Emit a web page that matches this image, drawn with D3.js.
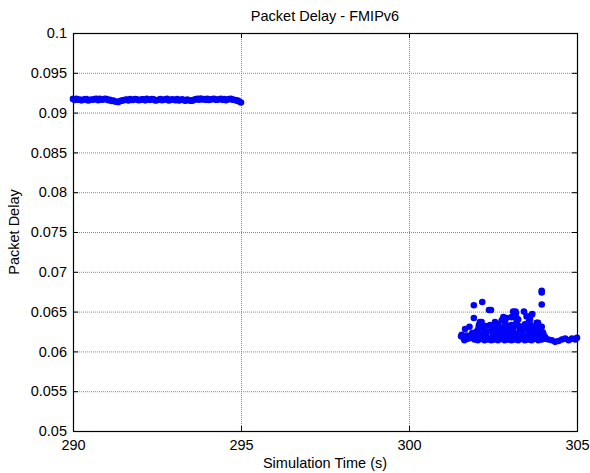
<!DOCTYPE html>
<meta charset="utf-8">
<script src="https://d3js.org/d3.v7.min.js"></script>
<style>
  body { margin: 0; background: #fff; }
  text { font-family: "Liberation Sans", Arial, sans-serif; fill: #000; }
</style>
<body>
<div id="chart"></div>
<script>
  // ---- data ----
  const xTicks = [290, 295, 300, 305];
  const yTicks = [0.05, 0.055, 0.06, 0.065, 0.07, 0.075, 0.08, 0.085, 0.09, 0.095, 0.1];
  const yTickLabels = ["0.05", "0.055", "0.06", "0.065", "0.07", "0.075", "0.08", "0.085", "0.09", "0.095", "0.1"];

  // before handover: steady delay
  const timeA = [290.0, 290.1, 290.2, 290.3, 290.4, 290.5, 290.6, 290.7, 290.8, 290.9,
                 291.0, 291.1, 291.2, 291.3, 291.4, 291.5, 291.6, 291.7, 291.8, 291.9,
                 292.0, 292.1, 292.2, 292.3, 292.4, 292.5, 292.6, 292.7, 292.8, 292.9,
                 293.0, 293.1, 293.2, 293.3, 293.4, 293.5, 293.6, 293.7, 293.8, 293.9,
                 294.0, 294.1, 294.2, 294.3, 294.4, 294.5, 294.6, 294.7, 294.8, 294.9, 295.0];
  const delayA = [0.09172, 0.09174, 0.09165, 0.09160, 0.09170, 0.09158, 0.09162, 0.09172, 0.09174, 0.09165,
                  0.09170, 0.09160, 0.09150, 0.09136, 0.09145, 0.09155, 0.09164, 0.09170, 0.09160, 0.09168,
                  0.09158, 0.09167, 0.09172, 0.09160, 0.09168, 0.09155, 0.09170, 0.09162, 0.09172, 0.09158,
                  0.09162, 0.09170, 0.09158, 0.09155, 0.09164, 0.09150, 0.09160, 0.09174, 0.09176, 0.09170,
                  0.09174, 0.09165, 0.09172, 0.09162, 0.09174, 0.09170, 0.09165, 0.09172, 0.09160, 0.09150, 0.09126];
  const timeA2 = [290.05, 290.15, 290.25, 290.35, 290.45, 290.55, 290.65, 290.75, 290.85, 290.95,
                  291.05, 291.15, 291.25, 291.35, 291.45, 291.55, 291.65, 291.75, 291.85, 291.95,
                  292.05, 292.15, 292.25, 292.35, 292.45, 292.55, 292.65, 292.75, 292.85, 292.95,
                  293.05, 293.15, 293.25, 293.35, 293.45, 293.55, 293.65, 293.75, 293.85, 293.95,
                  294.05, 294.15, 294.25, 294.35, 294.45, 294.55, 294.65, 294.75, 294.85, 294.95];
  const delayA2 = [0.09158, 0.09162, 0.09154, 0.09166, 0.09152, 0.09164, 0.09170, 0.09156, 0.09162, 0.09172,
                   0.09156, 0.09146, 0.09140, 0.09132, 0.09150, 0.09160, 0.09152, 0.09158, 0.09170, 0.09156,
                   0.09166, 0.09154, 0.09162, 0.09170, 0.09152, 0.09162, 0.09156, 0.09168, 0.09152, 0.09166,
                   0.09156, 0.09152, 0.09166, 0.09150, 0.09156, 0.09148, 0.09166, 0.09162, 0.09166, 0.09160,
                   0.09158, 0.09170, 0.09160, 0.09168, 0.09160, 0.09156, 0.09170, 0.09162, 0.09154, 0.09140];

  // after handover: baseline
  const timeB = [301.55, 301.65, 301.75, 301.85, 301.95, 302.05, 302.15, 302.25, 302.35, 302.45,
                 302.55, 302.65, 302.75, 302.85, 302.95, 303.05, 303.15, 303.25, 303.35, 303.45,
                 303.55, 303.65, 303.75, 303.85, 303.95, 304.05, 304.15, 304.25, 304.35, 304.45,
                 304.55, 304.65, 304.75, 304.85, 304.95, 305.0];
  const delayB = [0.0619, 0.0614, 0.0616, 0.0617, 0.0615, 0.0614, 0.0616, 0.0614, 0.0615, 0.0614,
                  0.0615, 0.0614, 0.0616, 0.0614, 0.0615, 0.0614, 0.0615, 0.0614, 0.0616, 0.0614,
                  0.0615, 0.0614, 0.0616, 0.0614, 0.0615, 0.0616, 0.0615, 0.0614, 0.0612, 0.0613,
                  0.0615, 0.0616, 0.0614, 0.0616, 0.0615, 0.0617];

  // after handover: jitter above the baseline
  const timeC = [301.57, 301.67, 301.8, 301.93, 302.18, 301.93, 302.04, 302.01, 302.11, 302.16,
                 302.38, 302.44, 302.41, 302.56, 302.76, 302.81, 302.9, 303.05, 303.1, 303.17,
                 303.18, 303.2, 303.42, 303.65, 303.67, 303.84, 303.95, 303.95, 303.95,
                 302.0, 302.1, 302.2, 302.3, 302.35, 302.5, 302.6, 302.7, 302.75, 302.85,
                 302.95, 303.0, 303.05, 303.1, 303.2, 303.25, 303.3, 303.35, 303.45, 303.5,
                 303.55, 303.6, 303.65, 303.7, 303.75, 303.8, 303.85, 303.9, 303.95, 304.0,
                 304.05, 302.9, 303.1, 303.4, 302.65, 303.55, 303.8, 303.25, 303.5];
  const delayC = [0.0621, 0.0628, 0.0631, 0.0658, 0.0662, 0.0642, 0.0626, 0.0625, 0.0637, 0.0637,
                  0.0652, 0.0652, 0.0633, 0.0637, 0.0639, 0.0643, 0.0642, 0.0643, 0.0650, 0.0650,
                  0.0648, 0.0642, 0.0650, 0.0646, 0.0647, 0.0636, 0.0676, 0.0674, 0.0659,
                  0.0621, 0.0619, 0.0622, 0.0618, 0.0625, 0.0620, 0.0626, 0.0619, 0.0630, 0.0622,
                  0.0627, 0.0620, 0.0633, 0.0624, 0.0637, 0.0620, 0.0629, 0.0623, 0.0634, 0.0619,
                  0.0627, 0.0640, 0.0622, 0.0630, 0.0619, 0.0636, 0.0625, 0.0620, 0.0631, 0.0622,
                  0.0618, 0.0632, 0.0628, 0.0627, 0.0634, 0.0636, 0.0628, 0.0640, 0.0644];

  // denser fill of the jitter band
  const timeD = [301.62, 301.72, 301.88, 301.98, 302.07, 302.13, 302.23, 302.28, 302.33, 302.47,
                 302.52, 302.58, 302.63, 302.68, 302.72, 302.78, 302.83, 302.88, 302.93, 302.98,
                 303.02, 303.08, 303.13, 303.22, 303.28, 303.32, 303.38, 303.43, 303.48, 303.53,
                 303.58, 303.63, 303.68, 303.72, 303.78, 303.82, 303.88, 303.92, 303.98, 304.02,
                 302.08, 302.27, 302.46, 302.62, 302.87, 303.03, 303.27, 303.37, 303.62, 303.87];
  const delayD = [0.0617, 0.0620, 0.0623, 0.0618, 0.0629, 0.0617, 0.0628, 0.0621, 0.0617, 0.0626,
                  0.0617, 0.0622, 0.0618, 0.0624, 0.0617, 0.0622, 0.0628, 0.0618, 0.0622, 0.0631,
                  0.0617, 0.0621, 0.0632, 0.0618, 0.0624, 0.0617, 0.0621, 0.0617, 0.0628, 0.0618,
                  0.0622, 0.0618, 0.0624, 0.0617, 0.0626, 0.0618, 0.0630, 0.0617, 0.0624, 0.0617,
                  0.0633, 0.0632, 0.0630, 0.0630, 0.0635, 0.0628, 0.0632, 0.0631, 0.0633, 0.0632];

  const points = [].concat(
    timeA.map((t, i) => ({t: t, d: delayA[i]})),
    timeA2.map((t, i) => ({t: t, d: delayA2[i]})),
    timeB.map((t, i) => ({t: t, d: delayB[i]})),
    timeC.map((t, i) => ({t: t, d: delayC[i]})),
    timeD.map((t, i) => ({t: t, d: delayD[i]}))
  );

  // ---- layout ----
  const W = 590, H = 473;
  const margin = {top: 33, right: 13, bottom: 42, left: 73};
  const width = W - margin.left - margin.right,
        height = H - margin.top - margin.bottom;

  const svg = d3.select("#chart").append("svg")
      .attr("width", W)
      .attr("height", H);
  const g = svg.append("g")
      .attr("transform", `translate(${margin.left},${margin.top})`);

  const x = d3.scaleLinear().domain([290, 305]).range([0, width]);
  const y = d3.scaleLinear().domain([0.05, 0.1]).range([height, 0]);

  // grid lines (dotted, grey)
  g.append("g").selectAll("line")
    .data(yTicks.slice(1, -1))
    .join("line")
      .attr("x1", 0).attr("x2", width)
      .attr("y1", d => y(d) + 0.5).attr("y2", d => y(d) + 0.5)
      .attr("stroke", "#8a8a8a").attr("stroke-width", 1)
      .attr("stroke-dasharray", "1,1");
  g.append("g").selectAll("line")
    .data(xTicks.slice(1, -1))
    .join("line")
      .attr("y1", 0).attr("y2", height)
      .attr("x1", d => Math.round(x(d)) + 0.5).attr("x2", d => Math.round(x(d)) + 0.5)
      .attr("stroke", "#8a8a8a").attr("stroke-width", 1)
      .attr("stroke-dasharray", "1,1");

  // points
  g.append("g").selectAll("circle")
    .data(points)
    .join("circle")
      .attr("cx", d => x(d.t))
      .attr("cy", d => y(d.d))
      .attr("r", 3.3)
      .attr("fill", "#0000ff");

  // axes with inward ticks on all sides
  const fmt = (d, i) => yTickLabels[i];
  g.append("g")
      .attr("transform", `translate(0,${height})`)
      .call(d3.axisBottom(x).tickValues(xTicks).tickSizeInner(-5).tickSizeOuter(0).tickPadding(9).tickFormat(d3.format("d")))
      .call(a => a.select(".domain").remove())
      .selectAll("text").style("font-size", "14.5px").attr("font-family", null);
  g.append("g")
      .call(d3.axisTop(x).tickValues(xTicks).tickSizeInner(-5).tickSizeOuter(0).tickFormat(""))
      .call(a => a.select(".domain").remove());
  g.append("g")
      .call(d3.axisLeft(y).tickValues(yTicks).tickSizeInner(-5).tickSizeOuter(0).tickPadding(6).tickFormat(fmt))
      .call(a => a.select(".domain").remove())
      .selectAll("text").style("font-size", "14.5px").attr("font-family", null);
  g.append("g")
      .attr("transform", `translate(${width},0)`)
      .call(d3.axisRight(y).tickValues(yTicks).tickSizeInner(-5).tickSizeOuter(0).tickFormat(""))
      .call(a => a.select(".domain").remove());

  // box
  g.append("rect")
      .attr("x", 0.5).attr("y", 0.5)
      .attr("width", width).attr("height", height)
      .attr("fill", "none").attr("stroke", "#000").attr("stroke-width", 1.2);

  // title and labels
  svg.append("text")
      .attr("x", margin.left + width / 2).attr("y", 21)
      .attr("text-anchor", "middle")
      .style("font-size", "14.5px")
      .text("Packet Delay - FMIPv6");
  svg.append("text")
      .attr("x", margin.left + width / 2).attr("y", 468)
      .attr("text-anchor", "middle")
      .style("font-size", "14.5px")
      .text("Simulation Time (s)");
  svg.append("text")
      .attr("transform", `translate(19,${margin.top + height / 2}) rotate(-90)`)
      .attr("text-anchor", "middle")
      .style("font-size", "14.5px")
      .text("Packet Delay");
</script>
</body>
